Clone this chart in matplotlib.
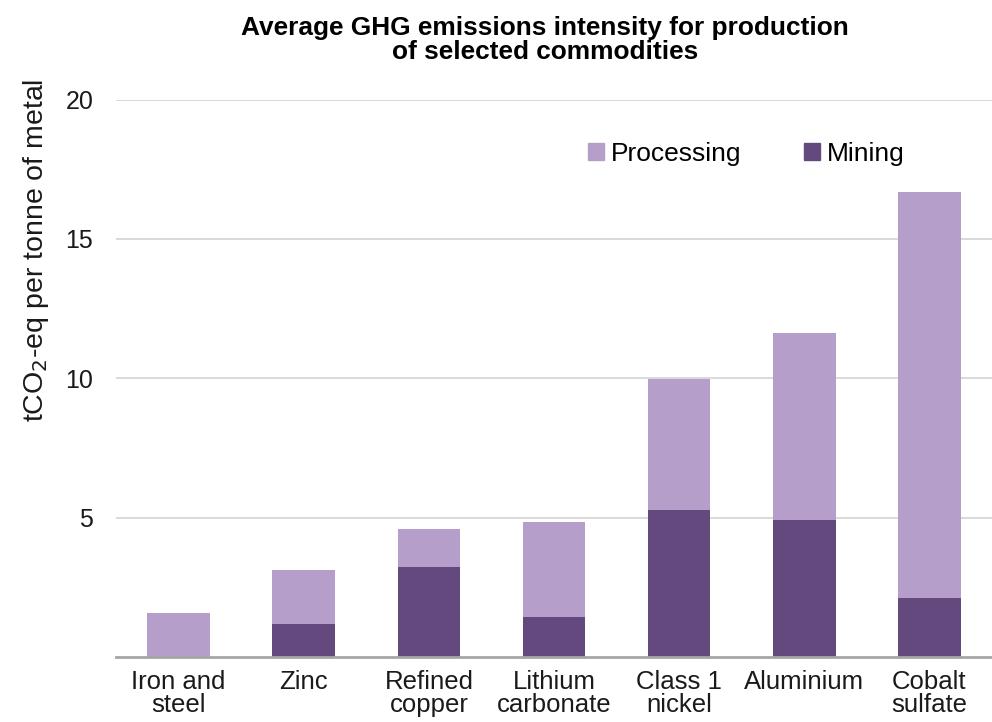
import matplotlib

matplotlib.use("Agg")
import matplotlib.pyplot as plt
from matplotlib.patches import Patch

# values (tCO2-eq per tonne of metal)
commodities = [
    "Iron and\nsteel",
    "Zinc",
    "Refined\ncopper",
    "Lithium\ncarbonate",
    "Class 1\nnickel",
    "Aluminium",
    "Cobalt\nsulfate",
]
mining = [0.0, 1.18, 3.23, 1.44, 5.28, 4.90, 2.12]
total = [1.58, 3.12, 4.61, 4.84, 9.98, 11.63, 16.70]
processing = [t - m for t, m in zip(total, mining)]
yticks = [5, 10, 15, 20]

PROC_COLOR = "#B59FCA"
MINE_COLOR = "#63497D"
TEXT = "#1a1a1a"

plt.rcParams["font.family"] = ["Liberation Sans", "DejaVu Sans"]

fig = plt.figure(figsize=(9.92, 7.22), dpi=100)
ax = fig.add_axes([0.117, 0.09, 0.883, 0.772])

x = range(len(commodities))
ax.bar(x, mining, width=0.5, color=MINE_COLOR, zorder=2)
ax.bar(x, processing, width=0.5, bottom=mining, color=PROC_COLOR, zorder=2)

ax.set_xlim(-0.5, len(commodities) - 0.5)
ax.set_ylim(0, 20)
ax.set_yticks(yticks)
ax.set_yticklabels([str(v) for v in yticks], fontsize=18, color=TEXT)
ax.set_xticks(list(x))
ax.set_xticklabels(commodities, fontsize=18.5, color=TEXT, linespacing=0.95)
ax.tick_params(axis="both", length=0)
ax.tick_params(axis="y", pad=16.5)
ax.tick_params(axis="x", pad=9)

ax.grid(axis="y", color="#D9D9D9", linewidth=1.4, zorder=0)
for side in ("top", "right", "left"):
    ax.spines[side].set_visible(False)
ax.spines["bottom"].set_color("#A6A6A6")
ax.spines["bottom"].set_linewidth(2)

ax.set_ylabel("tCO$_2$-eq per tonne of metal", fontsize=20.5, color=TEXT)
ax.yaxis.set_label_coords((51 - 116) / 876, (657 - 251) / 557)

fig.text(
    545 / 992, 1 - 40 / 722,
    "Average GHG emissions intensity for production\nof selected commodities",
    ha="center", va="center", fontsize=18.9, fontweight="bold", linespacing=0.95,
)

handles = [Patch(color=PROC_COLOR, label="Processing"), Patch(color=MINE_COLOR, label="Mining")]
ax.legend(
    handles=handles, loc="center left", bbox_to_anchor=((588 - 116) / 876, (657 - 154) / 557),
    ncol=2, frameon=False, fontsize=19, handlelength=0.6, handleheight=0.6,
    handletextpad=0.25, columnspacing=2.4, borderpad=0, borderaxespad=0,
)

fig.savefig("out.png", dpi=100)
